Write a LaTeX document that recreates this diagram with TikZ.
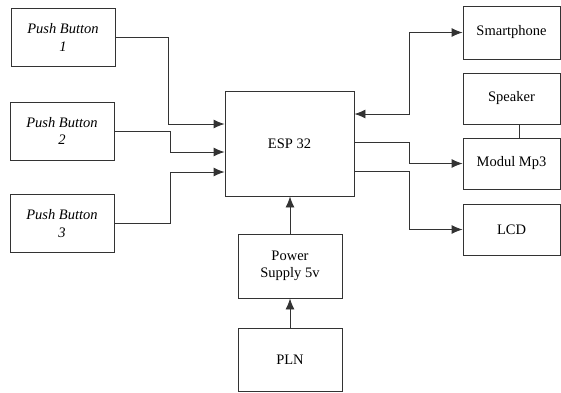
\documentclass[tikz,border=0pt]{standalone}
\usepackage{fontspec}
\setmainfont{LiberationSerif}[Extension=.ttf, UprightFont=*-Regular,
  ItalicFont=*-Italic, BoldFont=*-Bold, BoldItalicFont=*-BoldItalic]
\usetikzlibrary{arrows.meta}
\begin{document}
\begin{tikzpicture}[>={Latex[length=11pt,width=9pt]}, x=1pt, y=-1pt,
    line width=0.9pt, draw=black!80,
    box/.style={draw=black!80, align=center, inner sep=0pt,
        font=\fontsize{14.5}{17.5}\selectfont},
    pbbox/.style={box, minimum width=104pt, minimum height=58pt}]
  \useasboundingbox (0,0) rectangle (561,392);
  % inputs
  \node[pbbox] (pb1) at (63,37.5) {\textit{Push Button}\\\textit{1}};
  \node[pbbox] (pb2) at (62,131) {\textit{Push Button}\\\textit{2}};
  \node[pbbox] (pb3) at (62,223.5) {\textit{Push Button}\\\textit{3}};
  % controller
  \node[box, minimum width=129pt, minimum height=105pt] (esp) at (289.5,143.5) {ESP 32};
  % outputs
  \node[box, minimum width=97pt, minimum height=53pt] (smart) at (511.5,32.5) {Smartphone};
  \node[box, minimum width=97pt, minimum height=51pt] (speaker) at (511.5,98.5) {Speaker};
  \node[box, minimum width=97pt, minimum height=51pt] (mp3) at (511.5,163.5) {Modul Mp3};
  \node[box, minimum width=97pt, minimum height=51pt] (lcd) at (511.5,229.5) {LCD};
  % power
  \node[box, minimum width=104pt, minimum height=64pt] (ps) at (290,266) {Power\\Supply 5v};
  \node[box, minimum width=104pt, minimum height=63pt] (pln) at (290,359.5) {PLN};

  \draw[->] (pb1.east) -- ++(53,0) |- ([yshift=19.5pt]esp.west);
  \draw[->] (pb2.east) -- ++(56,0) |- ([yshift=-8.5pt]esp.west);
  \draw[->] (pb3.east) -- ++(56,0) |- ([yshift=-28.5pt]esp.west);
  \draw[<->] ([yshift=29.5pt]esp.east) -- ++(55,0) |- (smart.west);
  \draw[->] ([yshift=1.5pt]esp.east) -- ++(55,0) |- (mp3.west);
  \draw[->] ([yshift=-27.5pt]esp.east) -- ++(55,0) |- (lcd.west);
  \draw ([xshift=7.5pt]speaker.south) -- ([xshift=7.5pt]mp3.north);
  \draw[->] (ps.north) -- (ps.north |- esp.south);
  \draw[->] (pln) -- (ps);
\end{tikzpicture}
\end{document}
